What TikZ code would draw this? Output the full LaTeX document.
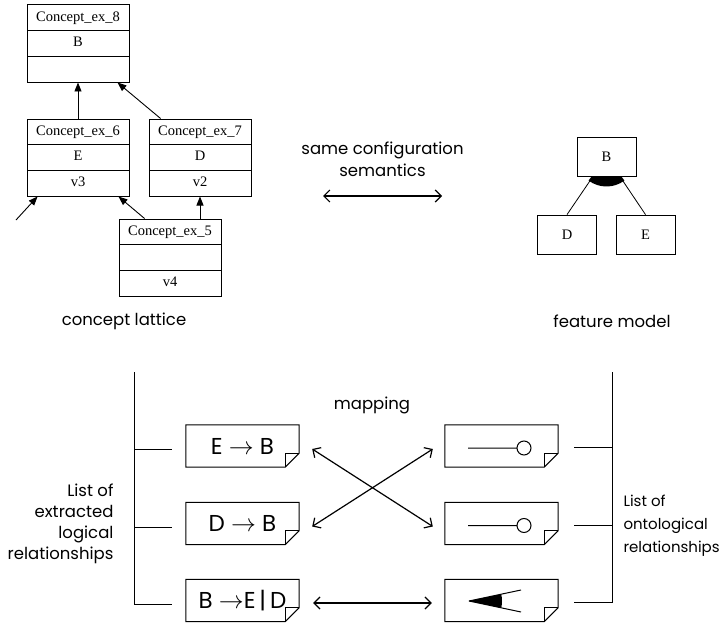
\documentclass[tikz,border=0pt]{standalone}
\usepackage{fontspec}
\setmainfont{Liberation Serif}
\newfontfamily\gothic{Poppins}
\usetikzlibrary{shapes.multipart,arrows.meta,positioning}

\tikzset{
  concept/.style={draw, rectangle split, rectangle split parts=3, text width=92pt,
    inner xsep=5pt, inner ysep=4pt, align=center, line width=0.9pt,
    font=\fontsize{14.5}{16.8}\selectfont},
  latarrow/.style={-{Triangle[length=9pt,width=7pt]}, line width=0.9pt},
  feature/.style={draw, minimum width=59pt, minimum height=39pt, inner sep=0pt,
    line width=0.8pt, font=\fontsize{14.5}{16.8}\selectfont},
  relnote/.style={minimum width=113pt, minimum height=42pt, inner sep=0pt,
    font=\gothic\fontsize{23}{26}\selectfont},
  caption/.style={font=\gothic\fontsize{16.5}{22}\selectfont, align=center},
  maparrow/.style={{Straight Barb[length=6pt,width=12pt]}-{Straight Barb[length=6pt,width=12pt]},
    line width=1.2pt},
}

\begin{document}
\begin{tikzpicture}[x=1pt,y=-1pt]
\useasboundingbox (0,0) rectangle (726,626);
% concept lattice
\node[concept] (c8) at (78,43.5) {\strut Concept\_ex\_8\nodepart{two}\strut B\nodepart{three}\strut};
\node[concept] (c6) at (78,157.5) {\strut Concept\_ex\_6\nodepart{two}\strut E\nodepart{three}\strut v3};
\node[concept] (c7) at (200,157.5) {\strut Concept\_ex\_7\nodepart{two}\strut D\nodepart{three}\strut v2};
\node[concept] (c5) at (170,257.5) {\strut Concept\_ex\_5\nodepart{two}\strut\nodepart{three}\strut v4};
\coordinate (c6in) at (16,220);
\draw[latarrow] (c6.north) -- (c8.south);
\draw[latarrow] ([xshift=12pt]c7.north west) -- ([xshift=-12pt]c8.south east);
\draw[latarrow] ([xshift=26pt]c5.north west) -- ([xshift=-11pt]c6.south east);
\draw[latarrow] (c7.south |- c5.north) -- (c7.south);
\draw[latarrow] (c6in) -- ([xshift=11pt]c6.south west);
\node[caption] (lattxt) at (124,321) {concept lattice};

% same configuration semantics
\node[caption] (semtxt) at (382.5,159) {same configuration\\semantics};
\coordinate (semL) at (323,196);
\coordinate (semR) at (442,196);
\draw[maparrow] (semL) -- (semR);

% feature model
\node[feature] (fB) at (606.5,156.5) {B};
\node[feature] (fD) at (567,234.5) {D};
\node[feature] (fE) at (645.5,234.5) {E};
\draw[line width=0.8pt] (fB) -- (fD.north);
\draw[line width=0.8pt] (fB) -- (fE.north);
\begin{scope}
  \clip (fB.south west) rectangle ([yshift=-40pt]fB.south east);
  \fill (fB.center) -- ++(233.3:30pt) arc[start angle=233.3, end angle=306.7, radius=30pt] -- cycle;
\end{scope}
\node[caption] (fmtxt) at (612,321) {feature model};

% relationships
\node[relnote] (l1) at (242.5,446) {E $\rightarrow$ B};
\node[relnote] (l2) at (242.5,523.5) {D $\rightarrow$ B};
\node[relnote] (l3) at (242.5,600.5) {B $\rightarrow$E\,|\,D};
\node[relnote] (r1) at (501.5,446) {};
\node[relnote] (r2) at (501.5,523.5) {};
\node[relnote] (r3) at (501.5,600.5) {};
\foreach \n in {l1,l2,l3,r1,r2,r3}{
  \draw[line width=1pt] (\n.north west) -- (\n.north east) -- ([yshift=14pt]\n.south east)
    -- ([xshift=-14pt]\n.south east) -- (\n.south west) -- cycle;
  \draw[line width=1pt] ([xshift=-14pt]\n.south east) -- ([xshift=-14pt,yshift=14pt]\n.south east)
    -- ([yshift=14pt]\n.south east);
}
\draw[line width=1pt] (r1.center) ++(-33.5,2) -- ++(49,0) ++(7,0) circle[radius=7pt];
\draw[line width=1pt] (r2.center) ++(-33.5,2) -- ++(49,0) ++(7,0) circle[radius=7pt];
\fill (r3.center) ++(-32.5,0.5) -- ++(12:33pt) arc[start angle=12, end angle=-12, radius=33pt] -- cycle;
\draw[line width=1pt] (r3.center) ++(-32.5,0.5) -- ++(52,-11);
\draw[line width=1pt] (r3.center) ++(-32.5,0.5) -- ++(52,11);

\node[caption] (maptxt) at (372,405) {mapping};
\draw[maparrow] ([xshift=13pt,yshift=-3pt]l1.east) -- ([xshift=-12pt,yshift=-3pt]r2.west);
\draw[maparrow] ([xshift=13pt,yshift=-3pt]l2.east) -- ([xshift=-12pt,yshift=-3pt]r1.west);
\draw[maparrow] ([xshift=14pt,yshift=-2.5pt]l3.east) -- ([xshift=-13pt,yshift=-2.5pt]r3.west);

% brackets
\coordinate (ltop) at (134,372);
\coordinate (rtop) at (612,372);
\draw[line width=1pt] (ltop) |- ([xshift=-14pt,yshift=-3.5pt]l3.west);
\draw[line width=1pt] ([xshift=-14pt,yshift=-3.5pt]l1.west) -- ++(-38,0);
\draw[line width=1pt] ([xshift=-14pt,yshift=-3.5pt]l2.west) -- ++(-38,0);
\draw[line width=1pt] (rtop) |- ([xshift=16pt,yshift=-1.5pt]r3.east);
\draw[line width=1pt] ([xshift=16pt,yshift=-1.5pt]r1.east) -- ++(38,0);
\draw[line width=1pt] ([xshift=16pt,yshift=-1.5pt]r2.east) -- ++(38,0);
\node[caption, align=right, anchor=east, font=\gothic\fontsize{16.5}{21}\selectfont] (ltxt) at (117,524) {List of\\extracted\\logical\\relationships};
\node[caption, align=left, anchor=west, font=\gothic\fontsize{15}{23}\selectfont] (rtxt) at (620,526) {List of\\ontological\\relationships};
\end{tikzpicture}
\end{document}
